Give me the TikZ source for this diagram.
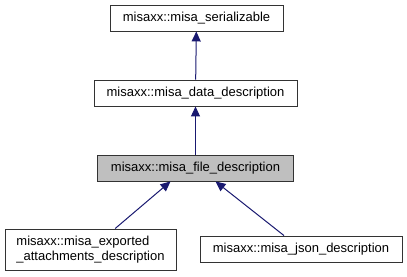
\documentclass[tikz,border=0pt]{standalone}
\usepackage{fontspec}
\setmainfont{Liberation Sans}
\usepackage{tikz}
\usetikzlibrary{arrows.meta, positioning}

\definecolor{edgeblue}{HTML}{191970}
\definecolor{boxgray}{HTML}{BFBFBF}

\begin{document}
\begin{tikzpicture}[
    x=1pt, y=-1pt,
    classbox/.style={rectangle, draw=black!80, line width=0.9pt, fill=white,
        inner sep=0pt, minimum height=26pt,
        font=\fontsize{13}{15}\selectfont},
    current/.style={classbox, fill=boxgray},
    inherit/.style={draw=edgeblue, line width=1pt,
        {Triangle[length=10pt, width=9pt, fill=edgeblue]}-}
]
    \useasboundingbox (0,0) rectangle (407,276);

    % 基类
    \node[classbox, minimum width=173pt] (ser) at (196.5, 18) {misaxx::misa\_serializable};
    \node[classbox, minimum width=203pt] (data) at (195.5, 93) {misaxx::misa\_data\_description};
    \node[current, minimum width=196pt] (file) at (195.5, 168) {misaxx::misa\_file\_description};

    % 派生类
    \node[classbox, minimum width=171pt, minimum height=41pt, align=left] (exp) at (90.5, 249.5)
        {misaxx::misa\_exported\\\_attachments\_description};
    \node[classbox, minimum width=202pt] (json) at (301, 249) {misaxx::misa\_json\_description};

    % 继承关系
    \draw[inherit] (ser) -- (data);
    \draw[inherit] (data) -- (file);
    \draw[inherit] ([xshift=-25pt]file.south) -- (exp);
    \draw[inherit] ([xshift=20pt]file.south) -- (json);
\end{tikzpicture}
\end{document}
